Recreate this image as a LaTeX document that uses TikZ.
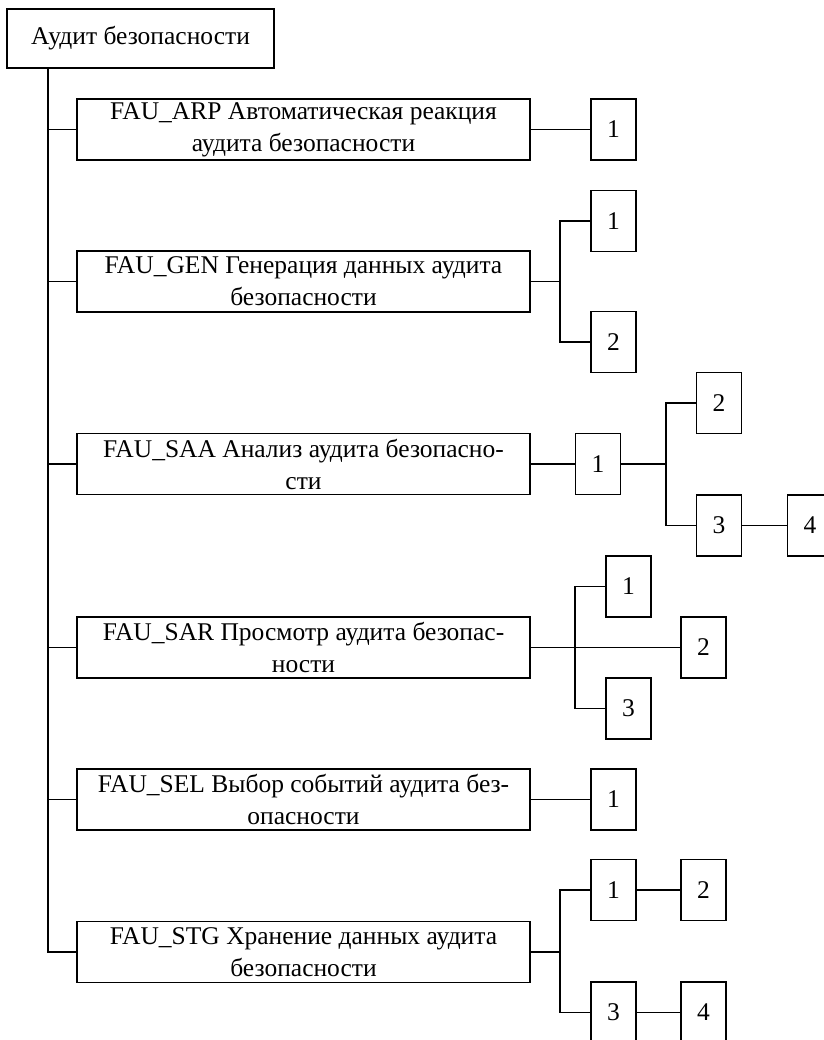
\documentclass[tikz,border=0pt]{standalone}
\usepackage{fontspec}
\setmainfont{Liberation Serif}
\begin{document}
\begin{tikzpicture}[x=1pt,y=-1pt,
  every path/.style={line width=1.3pt},
  txt/.style={font=\fontsize{25.5}{32}\selectfont},
  mbox/.style={draw, line width=1.3pt, txt, inner sep=0pt, align=center, minimum width=453, minimum height=61},
  nbox/.style={draw, line width=1.3pt, txt, inner sep=0pt, minimum width=45, minimum height=61},
  tbox/.style={draw, line width=1.3pt, txt, inner sep=0pt, minimum width=267, minimum height=59}]
\useasboundingbox (0,0) rectangle (823,1040);
\fill[white] (0,0) rectangle (823,1040);
% root
\node[tbox] (top) at (140.5,38.5) {Аудит безопасности};
\coordinate (tr) at (48,68);
% main boxes
\node[mbox] (arp) at (303.5,129.5) {FAU\_ARP Автоматическая реакция\\аудита безопасности};
\node[mbox] (gen) at (303.5,281.5) {FAU\_GEN Генерация данных аудита\\безопасности};
\node[mbox] (saa) at (303.5,464) {FAU\_SAA Анализ аудита безопасно-\\сти};
\node[mbox] (sar) at (303.5,647.5) {FAU\_SAR Просмотр аудита безопас-\\ности};
\node[mbox] (sel) at (303.5,799.5) {FAU\_SEL Выбор событий аудита без-\\опасности};
\node[mbox] (stg) at (303.5,952) {FAU\_STG Хранение данных аудита\\безопасности};
% trunk
\draw (tr) |- (stg.west);
\foreach \n in {arp,gen,saa,sar,sel} \draw (tr |- \n.west) -- (\n.west);
% ARP
\node[nbox] (arp1) at (613.5,129.5) {1};
\draw (arp.east) -- (arp1.west);
% GEN
\node[nbox] (gen1) at (613.5,221) {1};
\node[nbox] (gen2) at (613.5,342) {2};
\coordinate (genb) at (560,281.5);
\draw (gen.east) -- (genb);
\draw (gen1.west) -| (genb) |- (gen2.west);
% SAA
\node[nbox] (saa1) at (598,464) {1};
\node[nbox] (saa2) at (719,403) {2};
\node[nbox] (saa3) at (719,525.5) {3};
\node[nbox] (saa4) at (810,525.5) {4};
\coordinate (saab) at (666,464);
\draw (saa.east) -- (saa1.west);
\draw (saa1.east) -- (saab);
\draw (saa2.west) -| (saab) |- (saa3.west);
\draw (saa3.east) -- (saa4.west);
% SAR
\node[nbox] (sar1) at (628.5,586.5) {1};
\node[nbox] (sar2) at (703.5,647.5) {2};
\node[nbox] (sar3) at (628.5,708.5) {3};
\coordinate (sarb) at (575,647.5);
\draw (sar.east) -- (sar2.west);
\draw (sar1.west) -| (sarb) |- (sar3.west);
% SEL
\node[nbox] (sel1) at (613.5,799.5) {1};
\draw (sel.east) -- (sel1.west);
% STG
\node[nbox] (stg1) at (613.5,890) {1};
\node[nbox] (stg2) at (703.5,890) {2};
\node[nbox] (stg3) at (613.5,1012.5) {3};
\node[nbox] (stg4) at (703.5,1012.5) {4};
\coordinate (stgb) at (560,952);
\draw (stg.east) -- (stgb);
\draw (stg1.west) -| (stgb) |- (stg3.west);
\draw (stg1.east) -- (stg2.west);
\draw (stg3.east) -- (stg4.west);
\end{tikzpicture}
\end{document}
